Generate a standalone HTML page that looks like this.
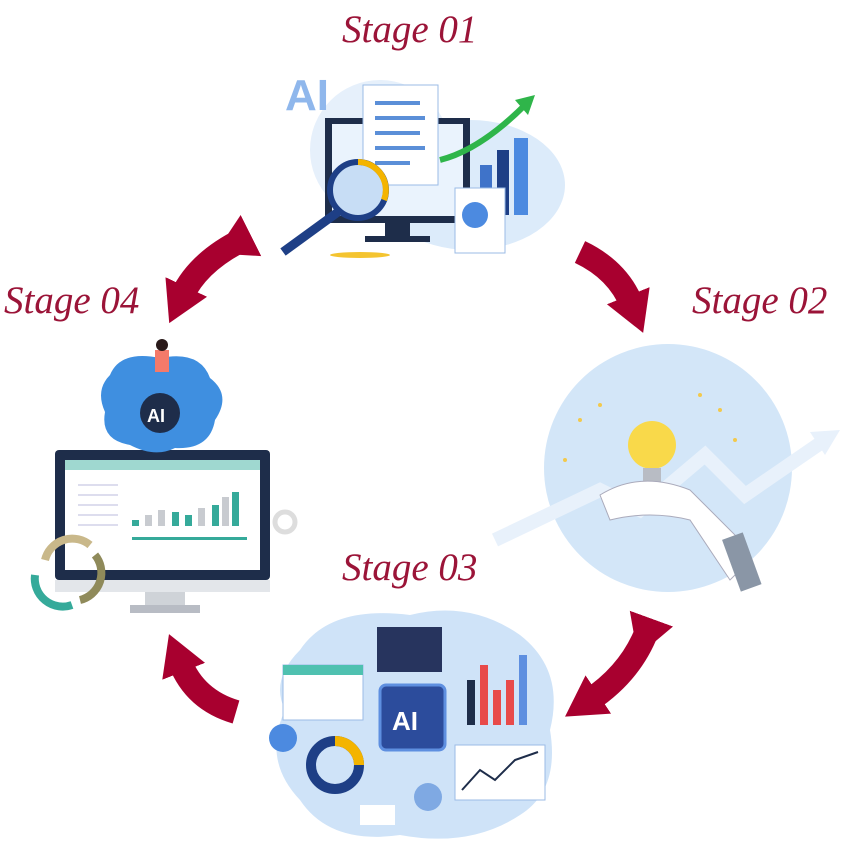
<!DOCTYPE html>
<html><head><meta charset="utf-8"><style>
html,body{margin:0;padding:0;background:#fff;}
svg{display:block}
.t{font-family:"Liberation Serif",serif;font-style:italic;font-size:39px;fill:#9b1438;}
</style></head><body>
<svg width="845" height="849" viewBox="0 0 845 849" xmlns="http://www.w3.org/2000/svg">
<defs>
<marker id="ah" markerUnits="userSpaceOnUse" markerWidth="50" markerHeight="50" refX="10" refY="25" orient="auto">
<path d="M0,2 L40,25 L0,48 Z" fill="#a8002f"/>
</marker>
</defs>
<text class="t" x="342" y="42">Stage 01</text>
<text class="t" x="692" y="313">Stage 02</text>
<text class="t" x="342" y="580">Stage 03</text>
<text class="t" x="4" y="313">Stage 04</text>

<!-- arrows -->
<g fill="none" stroke="#a8002f" stroke-width="24">
<path d="M242,240 Q198,262 182,296" marker-end="url(#ah)" marker-start="url(#ah)"/>
<path d="M580,252 Q618,270 632,305" marker-end="url(#ah)"/>
<path d="M648,628 Q632,672 590,700" marker-end="url(#ah)" marker-start="url(#ah)"/>
<path d="M236,712 Q195,700 180,662" marker-end="url(#ah)"/>
</g>

<!-- Stage 01 illustration -->
<g>
<ellipse cx="470" cy="185" rx="95" ry="65" fill="#dcebfa"/>
<ellipse cx="380" cy="150" rx="70" ry="70" fill="#e6f0fb"/>
<text x="285" y="110" font-family="Liberation Sans" font-weight="bold" font-size="44" fill="#8fb7ec">AI</text>
<rect x="325" y="118" width="145" height="105" fill="#1e2d4a"/>
<rect x="332" y="124" width="131" height="92" fill="#eaf3fd"/>
<rect x="385" y="223" width="25" height="14" fill="#1e2d4a"/>
<rect x="365" y="236" width="65" height="6" fill="#1e2d4a"/>
<rect x="363" y="85" width="75" height="100" fill="#fff" stroke="#9bbbe6"/>
<g stroke="#5b8fd8" stroke-width="4"><line x1="375" y1="103" x2="420" y2="103"/><line x1="375" y1="118" x2="425" y2="118"/><line x1="375" y1="133" x2="420" y2="133"/><line x1="375" y1="148" x2="425" y2="148"/><line x1="375" y1="163" x2="410" y2="163"/></g>
<path d="M440,160 Q480,150 525,105" stroke="#2fb54a" stroke-width="6" fill="none"/>
<path d="M515,100 L535,95 L528,115 Z" fill="#2fb54a"/>
<rect x="480" y="165" width="12" height="50" fill="#3f73c9"/>
<rect x="497" y="150" width="12" height="65" fill="#1e3f86"/>
<rect x="514" y="138" width="14" height="77" fill="#4c8ae0"/>
<rect x="455" y="188" width="50" height="65" fill="#fff" stroke="#9bbbe6"/>
<circle cx="475" cy="215" r="13" fill="#4c8ae0"/>
<circle cx="358" cy="190" r="28" fill="#c7ddf5" stroke="#1e3f86" stroke-width="6"/>
<path d="M358,162 A28,28 0 0 1 384,200" stroke="#f4b400" stroke-width="6" fill="none"/>
<line x1="338" y1="212" x2="283" y2="252" stroke="#1e3f86" stroke-width="9"/>
<ellipse cx="360" cy="255" rx="30" ry="3" fill="#f4c430"/>
</g>

<!-- Stage 02 illustration -->
<g>
<circle cx="668" cy="468" r="124" fill="#d3e6f8"/>
<path d="M495,540 L600,490 L640,510 L705,455 L745,495 L825,440" stroke="#e8f1fb" stroke-width="14" fill="none"/>
<path d="M810,432 L840,430 L825,455 Z" fill="#e8f1fb"/>
<circle cx="652" cy="445" r="24" fill="#f9d94a"/>
<rect x="643" y="468" width="18" height="20" fill="#b8bcc4"/>
<path d="M600,495 Q640,470 690,490 L735,535 L750,560 L730,580 L690,520 Q650,510 610,520 Z" fill="#fff" stroke="#aab" stroke-width="1"/>
<rect x="730" y="535" width="22" height="55" fill="#8a96a6" transform="rotate(-20 740 560)"/>
<g fill="#f2c94c"><circle cx="580" cy="420" r="2"/><circle cx="600" cy="405" r="2"/><circle cx="700" cy="395" r="2"/><circle cx="720" cy="410" r="2"/><circle cx="735" cy="440" r="2"/><circle cx="565" cy="460" r="2"/></g>
</g>

<!-- Stage 03 illustration -->
<g>
<path d="M300,650 Q330,605 410,615 Q470,600 520,635 Q565,670 550,730 Q560,790 520,815 Q470,848 400,835 Q330,845 300,800 Q262,760 285,710 Q270,680 300,650 Z" fill="#cfe3f8"/>
<rect x="283" y="665" width="80" height="55" fill="#fff" stroke="#9bbbe6"/>
<rect x="283" y="665" width="80" height="10" fill="#4fc1b0"/>
<rect x="377" y="627" width="65" height="45" fill="#27345e"/>
<rect x="380" y="685" width="65" height="65" rx="6" fill="#2c4c9c" stroke="#5e8fe0" stroke-width="3"/>
<text x="392" y="730" font-family="Liberation Sans" font-weight="bold" font-size="26" fill="#fff">AI</text>
<rect x="467" y="680" width="8" height="45" fill="#1e2d4a"/>
<rect x="480" y="665" width="8" height="60" fill="#e84a4a"/>
<rect x="493" y="690" width="8" height="35" fill="#e84a4a"/>
<rect x="506" y="680" width="8" height="45" fill="#e84a4a"/>
<rect x="519" y="655" width="8" height="70" fill="#5e8fe0"/>
<rect x="455" y="745" width="90" height="55" fill="#fff" stroke="#9bbbe6"/>
<path d="M462,790 L480,770 L495,780 L515,760 L538,752" stroke="#1e2d4a" stroke-width="2" fill="none"/>
<circle cx="335" cy="765" r="24" fill="none" stroke="#1e3f86" stroke-width="10"/>
<path d="M335,741 A24,24 0 0 1 359,765" stroke="#f4b400" stroke-width="10" fill="none"/>
<circle cx="283" cy="738" r="14" fill="#4c8ae0"/>
<circle cx="428" cy="797" r="14" fill="#7fa9e3"/>
<rect x="360" y="805" width="35" height="20" fill="#fff"/>
</g>

<!-- Stage 04 illustration -->
<g>
<rect x="55" y="450" width="215" height="130" rx="4" fill="#1e2d4a"/>
<rect x="65" y="460" width="195" height="110" fill="#fff"/>
<rect x="65" y="460" width="195" height="10" fill="#9fd8d0"/>
<rect x="55" y="580" width="215" height="12" fill="#e3e6ea"/>
<rect x="145" y="592" width="40" height="15" fill="#cfd3d8"/>
<rect x="130" y="605" width="70" height="8" fill="#b8bcc4"/>
<g fill="#35aa9a"><rect x="132" y="520" width="7" height="6"/><rect x="172" y="512" width="7" height="14"/><rect x="185" y="515" width="7" height="11"/><rect x="212" y="505" width="7" height="21"/><rect x="232" y="492" width="7" height="34"/></g>
<g fill="#c8cbd0"><rect x="145" y="515" width="7" height="11"/><rect x="158" y="510" width="7" height="16"/><rect x="198" y="508" width="7" height="18"/><rect x="222" y="497" width="7" height="29"/></g>
<rect x="132" y="537" width="115" height="3" fill="#35aa9a"/>
<g stroke="#dde" stroke-width="2"><line x1="78" y1="485" x2="118" y2="485"/><line x1="78" y1="495" x2="118" y2="495"/><line x1="78" y1="505" x2="118" y2="505"/><line x1="78" y1="515" x2="118" y2="515"/><line x1="78" y1="525" x2="118" y2="525"/></g>
<path d="M110,375 Q120,350 160,358 Q200,350 210,378 Q232,395 215,420 Q210,450 175,448 Q155,458 130,445 Q100,440 105,412 Q95,390 110,375 Z" fill="#3f8fe0"/>
<circle cx="160" cy="413" r="20" fill="#1e2d4a"/>
<text x="147" y="422" font-family="Liberation Sans" font-weight="bold" font-size="18" fill="#fff">AI</text>
<rect x="155" y="350" width="14" height="22" fill="#f47a6a"/>
<circle cx="162" cy="345" r="6" fill="#2a1a1a"/>
<path d="M45,560 A28,28 0 0 1 90,545" stroke="#c9b88a" stroke-width="8" fill="none"/>
<path d="M95,555 A28,28 0 0 1 80,600" stroke="#8f8a5a" stroke-width="8" fill="none"/>
<path d="M72,605 A28,28 0 0 1 35,575" stroke="#35aa9a" stroke-width="8" fill="none"/>
<circle cx="285" cy="522" r="10" fill="none" stroke="#ddd" stroke-width="5"/>
</g>
</svg>
</body></html>
